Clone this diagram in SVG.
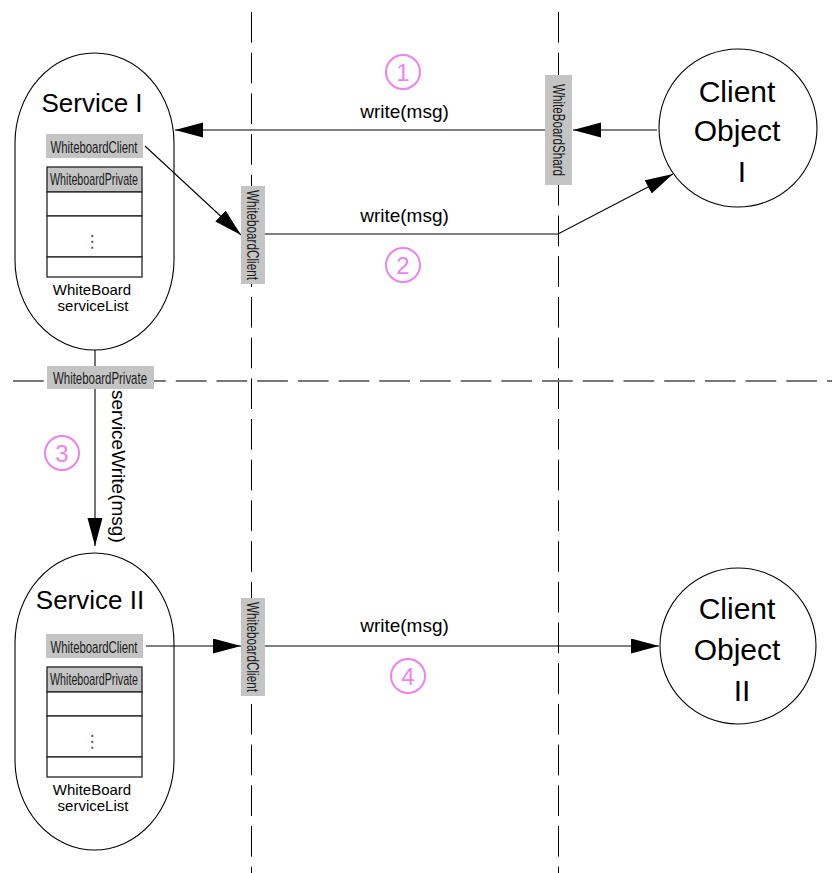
<svg xmlns="http://www.w3.org/2000/svg" width="832" height="873" viewBox="0 0 832 873">
<defs>
<style>
.bg{fill:#fff}
.vdash{stroke:#000;stroke-width:1;stroke-dasharray:30.7 10;fill:none}
.hdash{stroke:#777;stroke-width:2;stroke-dasharray:30.7 10;fill:none}
.pill{fill:#fff;stroke:#000;stroke-width:1.1}
.circ{fill:#fff;stroke:#000;stroke-width:1.1}
.conn{stroke:#000;stroke-width:1.1;fill:none}
.tag{fill:#c4c4c4}
.cell{fill:#fff;stroke:#222;stroke-width:1.3}
.cellh{fill:#c4c4c4;stroke:#222;stroke-width:1.3}
.t{font-family:"Liberation Sans",Arial,sans-serif;fill:#000}
.title{font-size:26px;text-anchor:middle}
.big{font-size:30px;text-anchor:middle}
.lbl{font-size:19px;text-anchor:middle}
.small{font-size:15px;text-anchor:middle}
.nar{font-size:17px;fill:#1a1a1a}
.dots{font-family:"DejaVu Sans",sans-serif;font-size:17px;fill:#555;text-anchor:middle}
.step{fill:none;stroke:#ee82ee;stroke-width:2}
.stept{font-family:"Liberation Sans",Arial,sans-serif;font-size:24px;fill:#ee82ee;text-anchor:middle}
</style>
<marker id="arr" markerUnits="userSpaceOnUse" markerWidth="30" markerHeight="16" refX="28" refY="7.5" orient="auto">
<path d="M0,0 L28,7.5 L0,15 z" fill="#000"/>
</marker>
</defs>
<rect class="bg" x="0" y="0" width="832" height="873"/>

<g id="dividers">
<line class="vdash" x1="251.5" y1="12" x2="251.5" y2="873"/>
<line class="vdash" x1="558.5" y1="12" x2="558.5" y2="873"/>
<line class="hdash" x1="13" y1="381" x2="832" y2="381"/>
</g>

<g id="service1">
<rect class="pill" x="15" y="53" width="159" height="297" rx="79.5" ry="90"/>
<text class="t title" x="92" y="112">Service I</text>
<rect class="tag" x="46" y="134" width="97" height="24"/>
<text class="t nar" x="94" y="153" text-anchor="middle" textLength="87" lengthAdjust="spacingAndGlyphs">WhiteboardClient</text>
<rect class="cellh" x="47" y="167" width="95" height="25"/>
<text class="t nar" x="94" y="185" text-anchor="middle" font-size="16.5" textLength="88" lengthAdjust="spacingAndGlyphs">WhiteboardPrivate</text>
<rect class="cell" x="47" y="192" width="95" height="24"/>
<rect class="cell" x="47" y="216" width="95" height="41"/>
<rect class="cell" x="47" y="257" width="95" height="20"/>
<text class="dots" x="92" y="247">⋮</text>
<text class="t small" x="92" y="295">WhiteBoard</text>
<text class="t small" x="93" y="311">serviceList</text>
</g>

<g id="service2">
<rect class="pill" x="15" y="553" width="159" height="297" rx="79.5" ry="90"/>
<text class="t title" x="90" y="609">Service II</text>
<rect class="tag" x="46" y="634" width="97" height="24"/>
<text class="t nar" x="94" y="653" text-anchor="middle" textLength="87" lengthAdjust="spacingAndGlyphs">WhiteboardClient</text>
<rect class="cellh" x="47" y="667" width="95" height="25"/>
<text class="t nar" x="94" y="685" text-anchor="middle" font-size="16.5" textLength="88" lengthAdjust="spacingAndGlyphs">WhiteboardPrivate</text>
<rect class="cell" x="47" y="692" width="95" height="24"/>
<rect class="cell" x="47" y="716" width="95" height="41"/>
<rect class="cell" x="47" y="757" width="95" height="20"/>
<text class="dots" x="92" y="747">⋮</text>
<text class="t small" x="92" y="795">WhiteBoard</text>
<text class="t small" x="93" y="811">serviceList</text>
</g>

<g id="client1">
<circle class="circ" cx="738" cy="128" r="79"/>
<text class="t big" x="737" y="102">Client</text>
<text class="t big" x="737" y="141">Object</text>
<text class="t big" x="742" y="182">I</text>
</g>

<g id="client2">
<circle class="circ" cx="738" cy="646" r="78"/>
<text class="t big" x="737" y="619">Client</text>
<text class="t big" x="737" y="660">Object</text>
<text class="t big" x="742" y="701">II</text>
</g>

<g id="connectors">
<line class="conn" x1="657" y1="130" x2="573" y2="130" marker-end="url(#arr)"/>
<line class="conn" x1="545" y1="130" x2="175" y2="130" marker-end="url(#arr)"/>
<line class="conn" x1="145" y1="146" x2="241" y2="235" marker-end="url(#arr)"/>
<polyline class="conn" points="265,234 558,234 673,174" marker-end="url(#arr)"/>
<line class="conn" x1="95" y1="350" x2="95" y2="366"/>
<line class="conn" x1="95" y1="389" x2="95" y2="546" marker-end="url(#arr)"/>
<line class="conn" x1="146" y1="646" x2="241" y2="646" marker-end="url(#arr)"/>
<line class="conn" x1="265" y1="646" x2="659" y2="646" marker-end="url(#arr)"/>
</g>

<g id="tag-shard">
<rect class="tag" x="545" y="75" width="27" height="110"/>
<text class="t nar" font-size="15.5" text-anchor="middle" transform="translate(558.5,130) rotate(90)" y="5.5" textLength="92" lengthAdjust="spacingAndGlyphs">WhiteBoardShard</text>
</g>

<g id="tag-client1">
<rect class="tag" x="241" y="186" width="24" height="98"/>
<text class="t nar" text-anchor="middle" transform="translate(253,235) rotate(90)" y="6" textLength="90" lengthAdjust="spacingAndGlyphs">WhiteboardClient</text>
</g>

<g id="tag-client2">
<rect class="tag" x="241" y="598" width="24" height="98"/>
<text class="t nar" text-anchor="middle" transform="translate(253,647) rotate(90)" y="6" textLength="90" lengthAdjust="spacingAndGlyphs">WhiteboardClient</text>
</g>

<g id="tag-private">
<rect class="tag" x="47" y="366" width="107" height="23"/>
<text class="t nar" x="100" y="383.5" text-anchor="middle" textLength="94" lengthAdjust="spacingAndGlyphs">WhiteboardPrivate</text>
</g>

<g id="labels">
<text class="t lbl" x="404.5" y="118">write(msg)</text>
<text class="t lbl" x="404.5" y="222">write(msg)</text>
<text class="t lbl" x="404.5" y="632">write(msg)</text>
<text class="t" font-size="19" transform="translate(112,390) rotate(90)">serviceWrite(msg)</text>
</g>

<g id="steps">
<circle class="step" cx="403" cy="72" r="17"/>
<text class="stept" x="403" y="80.5">1</text>
<circle class="step" cx="403" cy="265" r="17"/>
<text class="stept" x="403" y="273.5">2</text>
<circle class="step" cx="62" cy="453" r="17"/>
<text class="stept" x="62" y="461.5">3</text>
<circle class="step" cx="408" cy="676" r="17"/>
<text class="stept" x="408" y="684.5">4</text>
</g>
</svg>
